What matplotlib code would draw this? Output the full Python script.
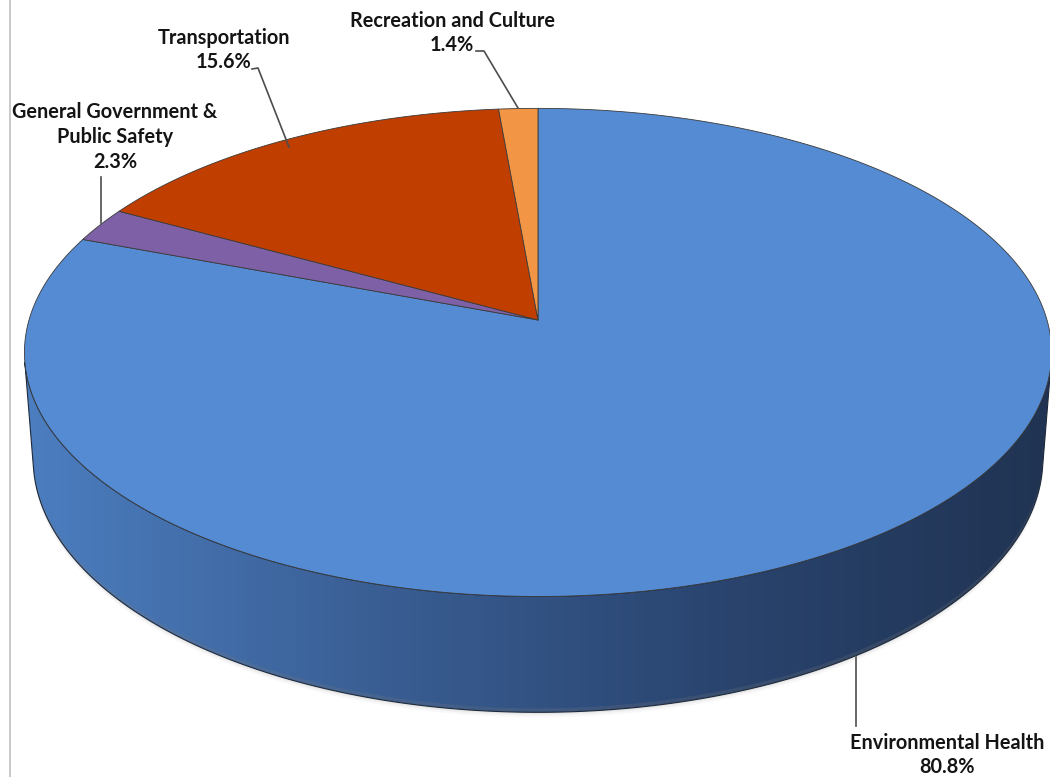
"""Departmental share of spending, drawn as a 3-D pie."""

import matplotlib.pyplot as plt
import numpy as np
from matplotlib.colors import LinearSegmentedColormap
from matplotlib.patches import Polygon

categories = ['Environmental Health', 'General Government &\nPublic Safety',
              'Transportation', 'Recreation and Culture']
shares = [80.8, 2.3, 15.6, 1.4]
top_colors = ['#548bd3', '#7d60a5', '#c03f00', '#f29646']

# label centres and leader lines, in pixels
label_pos = [(947, 755), (115, 137), (224, 50), (452, 33)]
leaders = [
    [(856, 657), (856, 726)],
    [(101, 177), (101, 223)],
    [(252, 69), (258, 68), (289, 147)],
    [(476, 51), (484, 51), (518, 108)],
]

# camera set-up for the perspective view
W, H_PX = 1050, 777
CX, CY = 538, 320
PHI = np.arcsin(0.471)
S, C = np.sin(PHI), np.cos(PHI)
D = 6.64
F = 509 * D
DEPTH = 0.2385


def proj(theta, z=0.0):
    """Screen position of a rim point; theta clockwise from 12 o'clock."""
    X = np.sin(theta)
    Y = -np.cos(theta)
    dist = D - (Y * C + z * S)
    x = CX + F * X / dist
    y = CY - F * (-Y * S + z * C) / dist
    return x, y


fig = plt.figure(figsize=(W / 100, H_PX / 100), dpi=100)
ax = fig.add_axes([0, 0, 1, 1])
ax.set_xlim(0, W)
ax.set_ylim(H_PX, 0)
ax.axis('off')

ax.plot([10, 10], [0, H_PX], color='#c0c0c0', lw=1.2)

# soft shadow under the base
arc = np.linspace(np.radians(95), np.radians(265), 200)
for off, a in [(5, 0.05), (3, 0.07), (1.5, 0.1)]:
    bx, by = proj(arc, -DEPTH)
    ax.fill(np.r_[bx, bx[::-1]], np.r_[by + off, by[::-1] - 4],
            color='#808080', alpha=a, lw=0)

# cylinder wall: horizontal gradient clipped to the visible band
sil = np.arccos(-1 / (D * C))
rim = np.linspace(sil, 2 * np.pi - sil, 400)
tx, ty = proj(rim, 0)
bx, by = proj(rim[::-1], -DEPTH)
wall = Polygon(np.c_[np.r_[tx, bx], np.r_[ty, by]], closed=True,
               facecolor='none', edgecolor='#1e2a3c', lw=0.8)
ax.add_patch(wall)
wall_cmap = LinearSegmentedColormap.from_list(
    'wall', ['#4c7ec0', '#3a5f95', '#2a4570', '#203352'])
grad = np.linspace(0, 1, 512)[None, :]
img = ax.imshow(grad, cmap=wall_cmap, extent=(25, 1050, 760, 300),
                aspect='auto', interpolation='bilinear')
img.set_clip_path(wall)

# top face wedges
fracs = np.array(shares) / np.sum(shares)
starts = np.r_[0, np.cumsum(fracs)[:-1]] * 2 * np.pi
for start, frac, col in zip(starts, fracs, top_colors):
    tt = np.linspace(start, start + frac * 2 * np.pi, max(int(frac * 720), 4))
    xs, ys = proj(tt, 0)
    pts = np.c_[np.r_[CX, xs], np.r_[CY, ys]]
    ax.add_patch(Polygon(pts, closed=True, facecolor=col, zorder=3,
                         edgecolor='#3a3a3a', lw=0.6, joinstyle='round'))

# labels
for name, val, (lx, ly), line in zip(categories, shares, label_pos, leaders):
    ax.text(lx, ly, f'{name}\n{val:.1f}%', ha='center', va='center',
            fontsize=14.3, fontweight='bold', family='Lato', color='#141414',
            linespacing=1.3, zorder=5)
    xs, ys = zip(*line)
    ax.plot(xs, ys, color='#4d4d4d', lw=1.2, zorder=4)

fig.savefig('out.png', dpi=100)
